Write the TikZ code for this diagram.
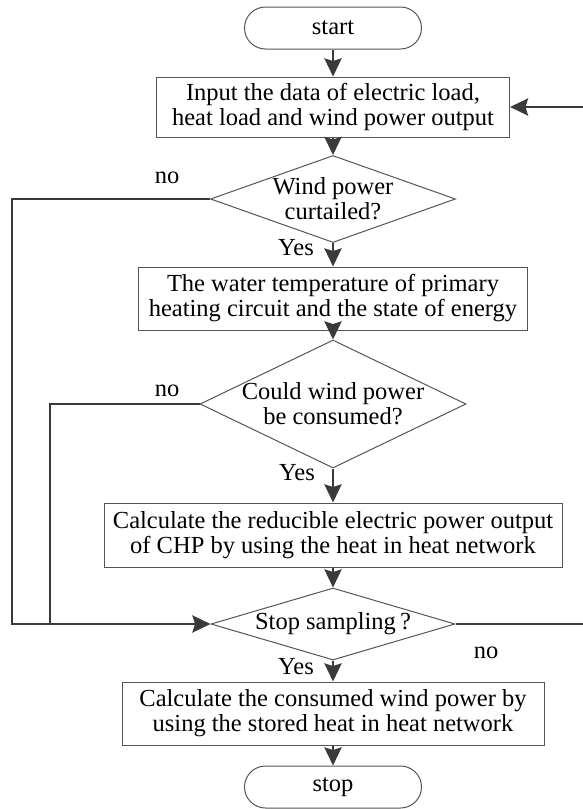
\documentclass[tikz,border=0pt]{standalone}
\usepackage{fontspec}
\setmainfont{Liberation Serif}
\usetikzlibrary{shapes.geometric,arrows.meta}
\definecolor{boxgray}{HTML}{555555}
\definecolor{linegray}{HTML}{3A3A3A}
\begin{document}
\begin{tikzpicture}[x=1pt,y=-1pt,
  every node/.style={font=\fontsize{24.5}{25}\selectfont},
  box/.style={draw=boxgray,line width=1pt,inner sep=0pt,align=center},
  term/.style={draw=boxgray,line width=1pt,rounded corners=21pt,minimum width=177pt,minimum height=42pt,inner sep=0pt},
  dia/.style={draw=boxgray,line width=1pt,diamond,inner sep=0pt},
  conn/.style={draw=linegray,line width=2.8pt},
  arr/.style={conn,-{Stealth[length=18pt,width=17pt,inset=2.5pt]}},
  lbl/.style={inner sep=0pt}]
\path[use as bounding box,fill=white] (0,0) rectangle (582,809);

\node[term] (start) at (333,28) {start};
\node[box,minimum width=353pt,minimum height=60pt] (b1) at (333,107) {Input the data of electric load,\\heat load and wind power output};
\node[dia,minimum width=245pt,minimum height=87pt] (d1) at (333,199) {};
\node[lbl,align=center] (t1) at (d1.center) {Wind power\\curtailed?};
\node[box,minimum width=389pt,minimum height=63pt] (b2) at (333,298.5) {The water temperature of primary\\heating circuit and the state of energy};
\node[dia,minimum width=266pt,minimum height=128pt] (d2) at (333,404) {};
\node[lbl,align=center] (t2) at (d2.center) {Could wind power\\be consumed?};
\node[box,minimum width=458pt,minimum height=64pt] (b3) at (333,535) {Calculate the reducible electric power output\\of CHP by using the heat in heat network};
\node[dia,minimum width=244pt,minimum height=72pt] (d3) at (333,624) {};
\node[lbl] (t3) at (d3.center) {Stop sampling\thinspace?};
\node[box,minimum width=422pt,minimum height=63pt] (b4) at (333,713.5) {Calculate the consumed wind power by\\using the stored heat in heat network};
\node[term] (stop) at (333,787) {stop};

\node[lbl] (no1) at (167,178) {no};
\node[lbl] (no2) at (167,391) {no};
\node[lbl] (no3) at (486,653) {no};
\node[lbl] (yes1) at (296,248) {Yes};
\node[lbl] (yes2) at (297,473) {Yes};
\node[lbl] (yes3) at (296,667) {Yes};

\coordinate (L1) at (12,624);
\coordinate (L2) at (50,624);
\coordinate (R1) at (585,624);
\coordinate (R2) at (585,107);

\draw[arr] (start) -- (b1);
\draw[arr] (b1) -- (d1);
\draw[arr] (d1) -- (b2);
\draw[arr] (b2) -- (d2);
\draw[arr] (d2) -- (b3);
\draw[arr] (b3) -- (d3);
\draw[arr] (d3) -- (b4);
\draw[arr] (b4) -- (stop);

\draw[arr] (d1.west) -| (L1) -- (d3.west);
\draw[conn] (d2.west) -| (L2);
\draw[arr] (d3.east) -- (R1) -- (R2) -- (b1.east);
\end{tikzpicture}
\end{document}
